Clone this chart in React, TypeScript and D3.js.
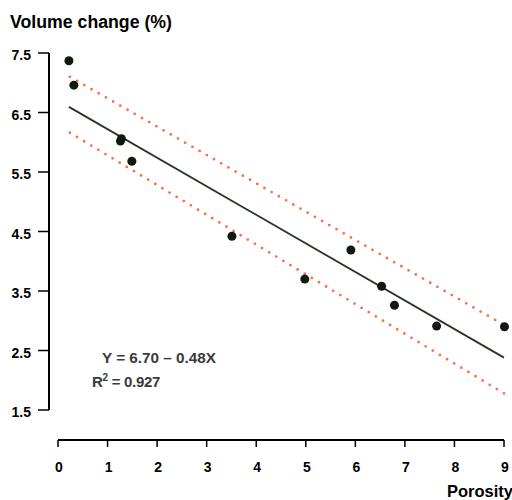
import React from "react";
import * as d3 from "d3";

const porosity = [0.22, 0.32, 1.26, 1.28, 1.49, 3.51, 4.98, 5.91, 6.53, 6.79, 7.64, 9.01];
const volumeChange = [7.37, 6.96, 6.02, 6.06, 5.68, 4.42, 3.7, 4.19, 3.58, 3.26, 2.91, 2.9];
const fitIntercept = 6.7;
const fitSlope = -0.48;
const fitRange = [0.22, 9.0];
const upperBand = [[0.24, 7.1], [9.0, 2.93]];
const lowerBand = [[0.24, 6.16], [9.0, 1.78]];
const xTicks = [0, 1, 2, 3, 4, 5, 6, 7, 8, 9];
const yTicks = [1.5, 2.5, 3.5, 4.5, 5.5, 6.5, 7.5];
const yTitle = "Volume change (%)";
const xTitle = "Porosity";
const equationText = "Y = 6.70 – 0.48X";
const r2Value = "0.927";

export default function App() {
  const x = d3.scaleLinear().domain([0, 9]).range([58, 504]);
  const y = d3.scaleLinear().domain([1.5, 7.5]).range([410, 53]);
  const line = d3.line<number[]>().x((d) => x(d[0])).y((d) => y(d[1]));
  const fitPts = fitRange.map((v) => [v, fitIntercept + fitSlope * v]);
  const font = "'Liberation Sans', Arial, sans-serif";
  return (
    <svg
      width={512}
      height={500}
      style={{ position: "absolute", left: 0, top: 0, background: "#fff" }}
      fontFamily={font}
    >
      <rect width={512} height={500} fill="#fff" />
      <text x={10} y={28} fontSize={17.5} fontWeight="bold" fill="#000" textLength={162} lengthAdjust="spacingAndGlyphs">{yTitle}</text>
      {/* y axis */}
      <line x1={49} x2={49} y1={y(7.5)} y2={y(1.5)} stroke="#000" strokeWidth={2} />
      {yTicks.map((t) => (
        <g key={t}>
          <line x1={38} x2={49} y1={y(t)} y2={y(t)} stroke="#000" strokeWidth={1.5} />
          <text x={31} y={y(t) + 7} fontSize={14} fontWeight="bold" textAnchor="end" fill="#000">
            {t.toFixed(1)}
          </text>
        </g>
      ))}
      {/* x axis */}
      <line x1={x(0)} x2={x(9)} y1={440} y2={440} stroke="#000" strokeWidth={2} />
      {xTicks.map((t) => (
        <g key={t}>
          <line x1={x(t)} x2={x(t)} y1={440} y2={447} stroke="#000" strokeWidth={1.5} />
          <text x={x(t) + 1} y={472} fontSize={14} fontWeight="bold" textAnchor="middle" fill="#000">
            {t}
          </text>
        </g>
      ))}
      <text x={513} y={497} fontSize={16.5} fontWeight="bold" textAnchor="end" fill="#000">{xTitle}</text>
      {/* bands */}
      {[upperBand, lowerBand].map((b, i) => (
        <path
          key={i}
          d={line(b) || ""}
          fill="none"
          stroke="#f4704e"
          strokeWidth={2.8}
          strokeLinecap="round"
          strokeDasharray="0 8.3"
        />
      ))}
      {/* fit */}
      <path d={line(fitPts) || ""} fill="none" stroke="#263626" strokeWidth={1.8} />
      {/* points */}
      {porosity.map((p, i) => (
        <circle key={i} cx={x(p)} cy={y(volumeChange[i])} r={4.5} fill="#111a11" />
      ))}
      <text x={102} y={363} fontSize={15} fontWeight="bold" fill="#3a3a3a" textLength={114} lengthAdjust="spacingAndGlyphs">
        {equationText}
      </text>
      <text x={92} y={387} fontSize={15} fontWeight="bold" fill="#3a3a3a" letterSpacing={-0.3}>
        R<tspan fontSize={10} dy={-6}>2</tspan>
        <tspan dy={6}> = {r2Value}</tspan>
      </text>
    </svg>
  );
}
